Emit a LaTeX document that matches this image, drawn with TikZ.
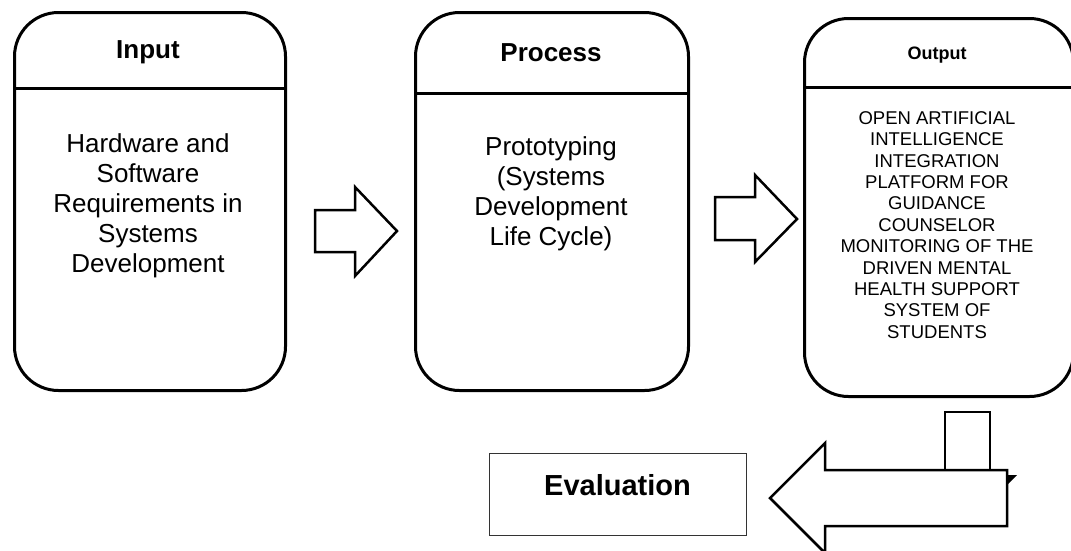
\documentclass[tikz,border=0pt]{standalone}
\usepackage{fontspec}
\setmainfont{Liberation Sans}
\begin{document}
\begin{tikzpicture}[x=1pt,y=-1pt,
  stage/.style={draw, line width=3pt, rounded corners=44pt, anchor=north west, inner sep=0pt},
  divider/.style={line width=3pt},
  blockarrow/.style={draw, line width=2.5pt, fill=white, line join=miter},
  titlebig/.style={font=\bfseries\fontsize{26}{30}\selectfont},
  titlesmall/.style={font=\bfseries\fontsize{18}{21}\selectfont},
  bodybig/.style={align=center, font=\fontsize{26}{30}\selectfont},
  bodysmall/.style={align=center, font=\fontsize{18.5}{21.4}\selectfont}]
\useasboundingbox (0,0) rectangle (1071,550);

% Input stage
\node[stage, minimum width=271pt, minimum height=378pt] (input) at (13,11) {};
\draw[divider] (input.west |- 0,88) -- (input.east |- 0,88);
\node[titlebig] (inputtitle) at (148,52) {Input};
\node[bodybig] (inputbody) at (148,206) {Hardware and\\Software\\Requirements in\\Systems\\Development};

% Process stage
\node[stage, minimum width=273pt, minimum height=378pt] (process) at (414,11) {};
\draw[divider] (process.west |- 0,93) -- (process.east |- 0,93);
\node[titlebig] (processtitle) at (551,53) {Process};
\node[bodybig] (processbody) at (551,194) {Prototyping\\(Systems\\Development\\Life Cycle)};

% Output stage
\node[stage, minimum width=269pt, minimum height=378pt] (output) at (803,17) {};
\draw[divider] (output.west |- 0,87) -- (output.east |- 0,87);
\node[titlesmall] (outputtitle) at (937,55) {Output};
\node[bodysmall] (outputbody) at (937,225) {OPEN ARTIFICIAL\\INTELLIGENCE\\INTEGRATION\\PLATFORM FOR\\GUIDANCE\\COUNSELOR\\MONITORING OF THE\\DRIVEN MENTAL\\HEALTH SUPPORT\\SYSTEM OF\\STUDENTS};

% Block arrows between the stages
\draw[blockarrow] (315,210) -- (355,210) -- (355,187) -- (397,231) -- (355,276) -- (355,252) -- (315,252) -- cycle;
\draw[blockarrow] (715,197) -- (755,197) -- (755,175) -- (797,219) -- (755,262) -- (755,240) -- (715,240) -- cycle;

% Bent arrow from the output down to the evaluation
\draw[line width=2.5pt, line join=miter] (945,470) -- (945,412) -- (990,412) -- (990,470);
\draw[blockarrow] (1007,470) -- (825,470) -- (825,443) -- (770,498) -- (825,553) -- (825,526) -- (1007,526) -- cycle;
\fill (1006,475) -- (1017,475) -- (1008,484) -- cycle;

% Evaluation
\node[draw=black!80, line width=1pt, minimum width=257pt, minimum height=82pt, inner sep=0pt] (evalbox) at (617.5,494) {};
\node[font=\bfseries\fontsize{29}{33}\selectfont] (evaltext) at (617.5,485) {Evaluation};
\end{tikzpicture}
\end{document}
